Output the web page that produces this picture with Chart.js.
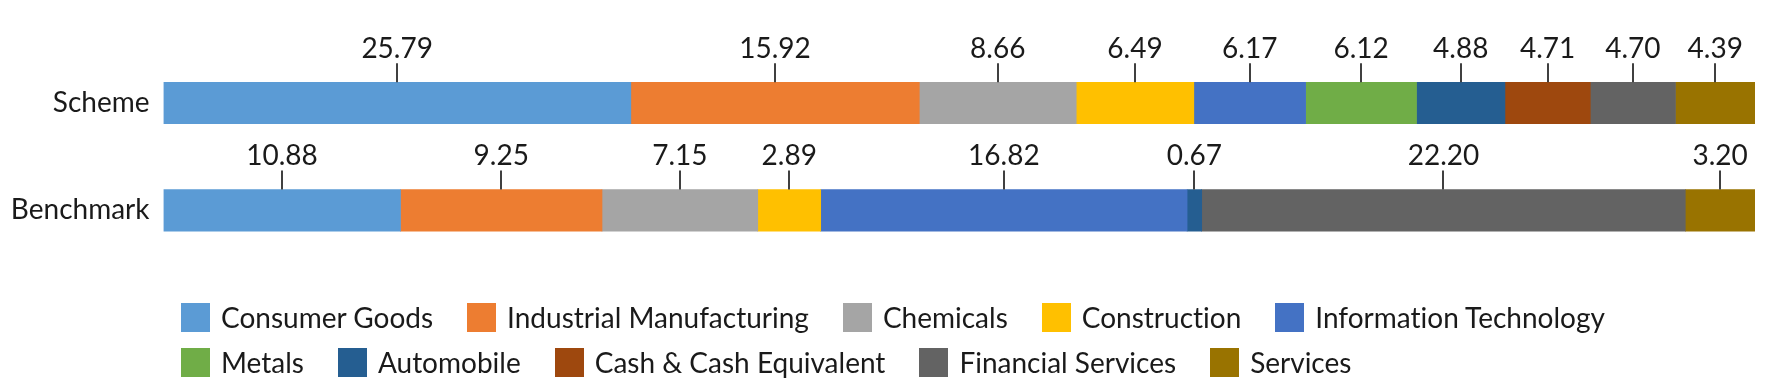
<!DOCTYPE html>
<html><head><meta charset="utf-8">
<script src="https://cdn.jsdelivr.net/npm/chart.js@4.4.0/dist/chart.umd.min.js"></script>
<style>
html,body{margin:0;padding:0;background:#fff;}
#wrap{position:relative;width:1772px;height:385px;overflow:hidden;}
#c{position:absolute;left:0;top:0;width:1772px;height:385px;}
#legend{position:absolute;left:181px;top:303px;width:1500px;display:flex;flex-wrap:wrap;font-family:Lato,sans-serif;font-weight:400;font-size:28px;color:#1a1a1a;font-variant-ligatures:none;}
.item{display:flex;align-items:center;height:29px;line-height:29px;margin:0 34px 16px 0;white-space:nowrap;}
.box{width:29px;height:29px;margin-right:11px;flex:none;}
</style></head>
<body>
<div id="wrap"><canvas id="c" width="1772" height="385"></canvas><div id="legend"></div></div>
<script>
const rowLabels = ['Scheme', 'Benchmark'];
const sectors = ['Consumer Goods', 'Industrial Manufacturing', 'Chemicals', 'Construction', 'Information Technology', 'Metals', 'Automobile', 'Cash & Cash Equivalent', 'Financial Services', 'Services'];
const sectorColors = ['#5B9BD5', '#ED7D31', '#A5A5A5', '#FFC000', '#4472C4', '#70AD47', '#255E91', '#9E480E', '#636363', '#997300'];
const schemeWeights = [25.79, 15.92, 8.66, 6.49, 6.17, 6.12, 4.88, 4.71, 4.70, 4.39];
const benchmarkWeights = [10.88, 9.25, 7.15, 2.89, 16.82, null, 0.67, null, 22.20, 3.20];

const rows = [schemeWeights, benchmarkWeights];
const totals = rows.map(r => r.reduce((s, v) => s + (v || 0), 0));

const datasets = sectors.map((name, i) => ({
  label: name,
  data: rows.map((r, ri) => r[i] == null ? null : r[i] / totals[ri] * 100),
  backgroundColor: sectorColors[i],
  borderWidth: 0,
  barThickness: 41.5
}));

const FONT = 'Lato';
const WEIGHT = '400';
const valueLabels = {
  id: 'valueLabels',
  afterDatasetsDraw(chart) {
    const ctx = chart.ctx;
    ctx.save();
    ctx.font = WEIGHT + ' 28px ' + FONT;
    ctx.fillStyle = '#1a1a1a';
    ctx.strokeStyle = '#404040';
    ctx.lineWidth = 2;
    ctx.textAlign = 'center';
    ctx.textBaseline = 'alphabetic';
    chart.data.datasets.forEach((ds, di) => {
      const meta = chart.getDatasetMeta(di);
      meta.data.forEach((bar, ri) => {
        const raw = rows[ri][di];
        if (raw == null) return;
        const p = bar.getProps(['x', 'y', 'base', 'height'], true);
        const cx = (p.x + p.base) / 2;
        const top = p.y - p.height / 2;
        const lx = Math.round(cx);
        ctx.beginPath();
        ctx.moveTo(lx, top - 19);
        ctx.lineTo(lx, top);
        ctx.stroke();
        ctx.fillText(raw.toFixed(2), cx, top - 24.5);
      });
    });
    ctx.restore();
  }
};

function build() {
  const lg = document.getElementById('legend');
  sectors.forEach((name, i) => {
    const it = document.createElement('div');
    it.className = 'item';
    const b = document.createElement('span');
    b.className = 'box';
    b.style.background = sectorColors[i];
    const t = document.createElement('span');
    t.textContent = name;
    it.appendChild(b); it.appendChild(t);
    lg.appendChild(it);
  });

  new Chart(document.getElementById('c'), {
    type: 'bar',
    data: { labels: rowLabels, datasets },
    options: {
      indexAxis: 'y',
      responsive: false,
      animation: false,
      maintainAspectRatio: false,
      layout: { padding: { top: 49.35, bottom: 121, left: 0, right: 17 } },
      plugins: { legend: { display: false }, tooltip: { enabled: false } },
      scales: {
        x: { stacked: true, min: 0, max: 100, display: false },
        y: {
          stacked: true,
          grid: { display: false, drawTicks: false },
          border: { display: false },
          ticks: { padding: 14, color: '#1a1a1a', font: { family: FONT, size: 28, weight: WEIGHT } },
          afterFit(scale) { scale.width = 163.5; }
        }
      }
    },
    plugins: [valueLabels]
  });
}

if (document.fonts && document.fonts.load) {
  document.fonts.load(WEIGHT + ' 28px ' + FONT).then(build, build);
} else { build(); }
</script>
</body></html>
